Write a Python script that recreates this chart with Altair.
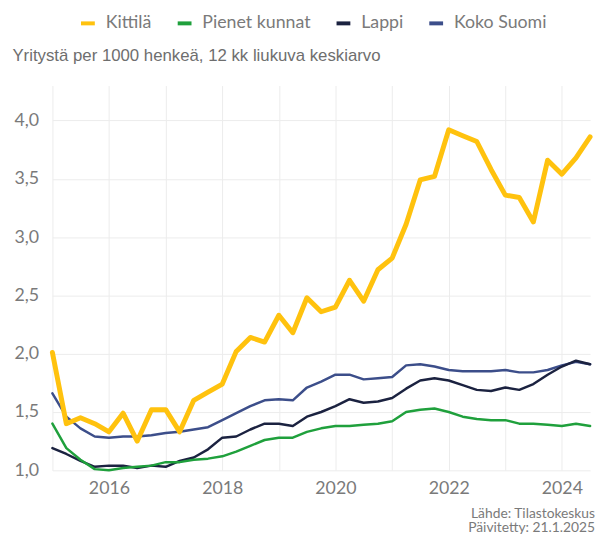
import altair as alt
import pandas as pd

series_names = ["Kittilä", "Pienet kunnat", "Lappi", "Koko Suomi"]
series_colors = ["#ffc20e", "#1fa03c", "#1b2240", "#3c4e8a"]

kittila = [2.01, 1.40, 1.45, 1.40, 1.33, 1.49, 1.25, 1.52, 1.52, 1.33,
           1.60, 1.67, 1.74, 2.02, 2.14, 2.10, 2.33, 2.18, 2.48, 2.36,
           2.40, 2.63, 2.45, 2.72, 2.82, 3.11, 3.49, 3.52, 3.92, 3.87,
           3.82, 3.58, 3.36, 3.34, 3.13, 3.66, 3.54, 3.68, 3.86]
pienet = [1.40, 1.19, 1.09, 1.01, 1.00, 1.02, 1.03, 1.04, 1.07, 1.07,
          1.09, 1.10, 1.12, 1.16, 1.21, 1.26, 1.28, 1.28, 1.33, 1.36,
          1.38, 1.38, 1.39, 1.40, 1.42, 1.50, 1.52, 1.53, 1.50, 1.46,
          1.44, 1.43, 1.43, 1.40, 1.40, 1.39, 1.38, 1.40, 1.38]
lappi = [1.19, 1.14, 1.08, 1.03, 1.04, 1.04, 1.02, 1.04, 1.03, 1.08,
         1.11, 1.18, 1.28, 1.29, 1.35, 1.40, 1.40, 1.38, 1.46, 1.50,
         1.55, 1.61, 1.58, 1.59, 1.62, 1.70, 1.77, 1.79, 1.77, 1.73,
         1.69, 1.68, 1.71, 1.69, 1.74, 1.82, 1.89, 1.94, 1.91]
koko_suomi = [1.66, 1.46, 1.36, 1.29, 1.28, 1.29, 1.29, 1.30, 1.32, 1.33,
              1.35, 1.37, 1.43, 1.49, 1.55, 1.60, 1.61, 1.60, 1.71, 1.76,
              1.82, 1.82, 1.78, 1.79, 1.80, 1.90, 1.91, 1.89, 1.86, 1.85,
              1.85, 1.85, 1.86, 1.84, 1.84, 1.86, 1.90, 1.93, 1.91]

quarters = pd.date_range("2015-01-01", periods=len(kittila), freq="QS").strftime("%Y-%m-%d").tolist()

y_ticks = [1.0, 1.5, 2.0, 2.5, 3.0, 3.5, 4.0]
title_text = "Yritystä per 1000 henkeä, 12 kk liukuva keskiarvo"
footer_lines = ["Lähde: Tilastokeskus", "Päivitetty: 21.1.2025"]

# draw order: Kittilä on top
draw_order = [("Koko Suomi", koko_suomi), ("Lappi", lappi),
              ("Pienet kunnat", pienet), ("Kittilä", kittila)]
rows = []
for k, (name, vals) in enumerate(draw_order):
    for d, v in zip(quarters, vals):
        rows.append({"date": d, "value": v, "series": name, "ord": k})
df = pd.DataFrame(rows)

grey = "#7a7a7a"

chart = alt.Chart(df).mark_line(strokeJoin="round", strokeCap="round").encode(
    x=alt.X("date:T",
            scale=alt.Scale(domain=[quarters[0], quarters[-1]]),
            axis=alt.Axis(title=None, tickCount={"interval": "year", "step": 1},
                          labelExpr="year(datum.value) % 2 == 0 ? timeFormat(datum.value, '%Y') : ''",
                          labelOverlap=False, domain=False, ticks=False,
                          labelFontSize=18, labelColor=grey, labelFont="Lato",
                          labelPadding=10, gridColor="#ececec", gridWidth=1)),
    y=alt.Y("value:Q",
            scale=alt.Scale(domain=[1.0, 4.3], nice=False, zero=False),
            axis=alt.Axis(values=y_ticks, title=title_text, titleAngle=0,
                          titleAlign="left", titleBaseline="alphabetic",
                          titleX=-41, titleY=-25, titleFont="Liberation Sans",
                          titleFontSize=17, titleFontWeight="normal", titleColor="#6e6e6e",
                          labelExpr="replace(format(datum.value, '.1f'), '.', ',')",
                          domain=False, ticks=False, labelFontSize=18, labelColor=grey,
                          labelFont="Lato", labelPadding=14,
                          gridColor="#ececec", gridWidth=1)),
    color=alt.Color("series:N",
                    scale=alt.Scale(domain=series_names, range=series_colors),
                    legend=alt.Legend(title=None, orient="none", direction="horizontal",
                                      legendX=27, legendY=-72,
                                      symbolType="stroke", symbolStrokeWidth=4,
                                      symbolSize=196, labelFontSize=18,
                                      labelFont="Lato", labelColor=grey,
                                      labelOffset=9, columnPadding=18)),
    strokeWidth=alt.condition(alt.datum.series == "Kittilä", alt.value(5), alt.value(2.5)),
    order=alt.Order("ord:Q"),
    detail="series:N",
).properties(
    width=545, height=390,
    autosize=alt.AutoSizeParams(type="none"),
    padding={"left": 45, "top": 75, "right": 7, "bottom": 63},
    title=alt.TitleParams(text=footer_lines, orient="bottom", anchor="end", frame="group",
                          fontSize=14, font="Lato", fontWeight="normal", color=grey,
                          lineHeight=15, offset=9, dx=5),
).configure_view(stroke=None)

chart.save("out.html", embed_options={"renderer": "svg", "actions": False})
